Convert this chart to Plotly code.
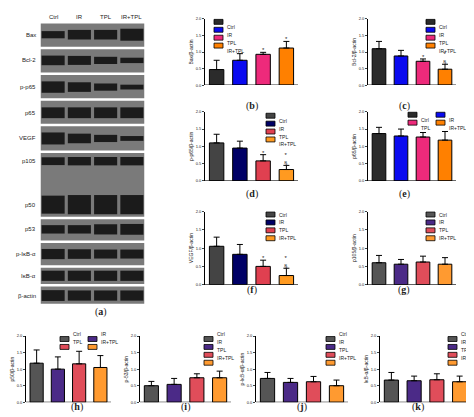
import plotly.graph_objects as go

W, H = 474, 417
groups = ["Ctrl", "IR", "TPL", "IR+TPL"]

# ---- blot data (relative band intensity per lane) ----
blot_rows = ["Bax", "Bcl-2", "p-p65", "p65", "VEGF", "p105", "p50", "p53", "p-IκB-α", "IκB-α", "β-actin"]
blot_int = {
    "Bax": [0.6, 0.8, 0.8, 1.0],
    "Bcl-2": [0.8, 0.75, 0.6, 0.45],
    "p-p65": [0.95, 0.8, 0.6, 0.4],
    "p65": [0.9, 0.9, 0.9, 0.9],
    "VEGF": [1.0, 0.8, 0.6, 0.4],
    "p105": [0.65, 0.7, 0.7, 0.7],
    "p50": [1.5, 1.6, 1.6, 1.6],
    "p53": [0.7, 0.7, 0.85, 0.9],
    "p-IκB-α": [0.85, 0.8, 0.75, 0.75],
    "IκB-α": [0.85, 0.85, 0.85, 0.85],
    "β-actin": [0.9, 0.85, 0.85, 0.85],
}
# ---- bar chart data ----
panels = ["b", "c", "d", "e", "f", "g", "h", "i", "j", "k"]
ylabels = {"b": "Bax/β-actin", "c": "Bcl-2/β-actin", "d": "p-p65/β-actin", "e": "p65/β-actin",
           "f": "VEGF/β-actin", "g": "p105/β-actin", "h": "p50/β-actin", "i": "p-53/β-actin",
           "j": "p-IκB-α/β-actin", "k": "IκB-α/β-actin"}
means = {"b": [0.47, 0.75, 0.93, 1.12], "c": [1.10, 0.88, 0.72, 0.48], "d": [1.10, 0.95, 0.58, 0.33],
         "e": [1.37, 1.30, 1.27, 1.18], "f": [1.05, 0.83, 0.50, 0.25], "g": [0.60, 0.56, 0.62, 0.56],
         "h": [1.18, 1.00, 1.16, 1.05], "i": [0.50, 0.54, 0.74, 0.74], "j": [0.72, 0.60, 0.62, 0.50],
         "k": [0.67, 0.65, 0.68, 0.62]}
errs = {"b": [0.28, 0.20, 0.06, 0.20], "c": [0.22, 0.17, 0.07, 0.15], "d": [0.25, 0.20, 0.18, 0.12],
        "e": [0.18, 0.20, 0.13, 0.25], "f": [0.25, 0.27, 0.17, 0.20], "g": [0.20, 0.13, 0.16, 0.18],
        "h": [0.40, 0.37, 0.38, 0.36], "i": [0.13, 0.18, 0.12, 0.20], "j": [0.18, 0.12, 0.16, 0.17],
        "k": [0.23, 0.14, 0.18, 0.17]}
sig = {"b": ["", "", "*", "*"], "c": ["", "", "*", "*<br>§"], "d": ["", "", "*", "*<br>§"],
       "f": ["", "", "*", "*<br>§"]}

pal1 = ["#2b2b2b", "#0a0af0", "#ee2a7b", "#ff8000"]
pal2 = ["#444444", "#000066", "#e04050", "#ff9a20"]
pal3 = ["#555555", "#4b2a87", "#e04d5a", "#ff9a30"]
pal = {"b": pal1, "c": pal1, "e": pal1, "d": pal2, "f": pal2,
       "g": pal3, "h": pal3, "i": pal3, "j": pal3, "k": pal3}

# pixel boxes: x0, x1, ytop(2.0), ybottom(0.0)
box = {"b": (197, 290, 8, 75), "c": (360, 448, 8, 75), "d": (197, 290, 102, 172),
       "e": (360, 448, 102, 172), "f": (197, 290, 203, 277), "g": (360, 448, 203, 277),
       "h": (18, 103, 329, 396), "i": (132, 223, 329, 396), "j": (248, 340, 329, 396),
       "k": (372, 463, 329, 396)}
leg = {"b": (206, 11), "c": (418, 11), "d": (258, 106), "e": (400, 105), "f": (258, 206),
       "g": (418, 206), "h": (52, 332), "i": (196, 332), "j": (318, 332), "k": (440, 332)}

px = lambda x: x / W
py = lambda y: 1 - y / H

fig = go.Figure()
layout = dict(width=W, height=H, margin=dict(l=0, r=0, t=0, b=0), paper_bgcolor="white",
              plot_bgcolor="white", showlegend=False, font=dict(family="Liberation Sans", color="#222"),
              bargap=0.3)
shapes, annots = [], []

for n, p in enumerate(panels, start=1):
    ax = "" if n == 1 else str(n)
    x0, x1, yt, yb = box[p]
    for g, name in enumerate(groups):
        fig.add_trace(go.Bar(
            x=[g], y=[means[p][g]], name=name, xaxis="x" + ax, yaxis="y" + ax,
            marker=dict(color=pal[p][g], line=dict(color="black", width=1)), width=0.62,
            error_y=dict(type="data", symmetric=False, array=[errs[p][g]], arrayminus=[0],
                         color="black", thickness=1, width=3)))
        if p in sig and sig[p][g]:
            annots.append(dict(x=g, y=means[p][g] + errs[p][g], xref="x" + ax, yref="y" + ax,
                               text=sig[p][g], showarrow=False, yanchor="bottom",
                               font=dict(size=6), yshift=-3))
    layout["xaxis" + ax] = dict(domain=[px(x0), px(x1)], range=[-0.5, 3.5], showticklabels=False,
                                ticks="", showgrid=False, zeroline=False, anchor="y" + ax)
    layout["yaxis" + ax] = dict(domain=[py(yb), py(yt)], range=[0, 2], dtick=0.5, tickformat=".1f",
                                showgrid=False, zeroline=False, showline=True, linecolor="black",
                                linewidth=1, ticks="outside", ticklen=2, tickfont=dict(size=4),
                                title=dict(text=ylabels[p], font=dict(size=5), standoff=1),
                                anchor="x" + ax)
    shapes.append(dict(type="line", xref="x" + ax + " domain", yref="y" + ax, x0=0, x1=1, y0=0, y1=0,
                       line=dict(color="black", width=1)))
    # manual legend
    lx, ly = leg[p]
    two = p in ("e", "h")
    for g, name in enumerate(groups):
        if two:
            ex, ey = lx + (g % 2) * 28, ly + (g // 2) * 8
        else:
            ex, ey = lx, ly + g * 8
        shapes.append(dict(type="rect", xref="paper", yref="paper", x0=px(ex), x1=px(ex + 9),
                           y0=py(ey + 2.5), y1=py(ey - 2.5), fillcolor=pal[p][g],
                           line=dict(color="black", width=0.8)))
        annots.append(dict(x=px(ex + 11), y=py(ey), xref="paper", yref="paper", text=name,
                           showarrow=False, xanchor="left", font=dict(size=5)))
    annots.append(dict(x=px((x0 + x1) / 2), y=py(yb + 13), xref="paper", yref="paper",
                       text=f"(<b>{p}</b>)", showarrow=False, font=dict(size=10, family="Liberation Serif")))

# ---- blot panel ----
bn = len(panels) + 1
bax = str(bn)
row_top = [12, 38, 64, 90, 116, 143, 143, 210, 234, 259, 278]
row_bot = [37, 63, 89, 115, 142, 209, 209, 233, 258, 277, 297]
band_y = [24, 50, 77, 103, 129, 152, 196, 221, 246, 268, 288]
for i, r in enumerate(blot_rows):
    if r != "p50":
        shapes.append(dict(type="rect", xref="x" + bax, yref="y" + bax, x0=0, x1=4,
                           y0=row_top[i], y1=row_bot[i], fillcolor="#7a7a7a",
                           line=dict(color="white", width=1.5), layer="below"))
    for lane in range(4):
        fig.add_trace(go.Scatter(x=[lane + 0.06, lane + 0.94], y=[band_y[i], band_y[i]], mode="lines",
                                 line=dict(color="#141414", width=blot_int[r][lane] * 12),
                                 opacity=0.92, showlegend=False, hoverinfo="skip",
                                 xaxis="x" + bax, yaxis="y" + bax))
    annots.append(dict(x=px(30), y=band_y[i], xref="paper", yref="y" + bax, text=r, showarrow=False,
                       xanchor="right", font=dict(size=6)))
for lane, gname in enumerate(groups):
    annots.append(dict(x=lane + 0.5, y=6, xref="x" + bax, yref="y" + bax, text=gname, showarrow=False,
                       font=dict(size=6)))
layout["xaxis" + bax] = dict(domain=[px(32), px(137)], range=[0, 4], visible=False, anchor="y" + bax)
layout["yaxis" + bax] = dict(domain=[py(300), py(0)], range=[300, 0], visible=False, anchor="x" + bax)
annots.append(dict(x=px(85), y=py(313), xref="paper", yref="paper", text="(<b>a</b>)", showarrow=False,
                   font=dict(size=10, family="Liberation Serif")))

layout["shapes"] = shapes
layout["annotations"] = annots
fig.update_layout(**layout)
fig.write_html("out.html")
